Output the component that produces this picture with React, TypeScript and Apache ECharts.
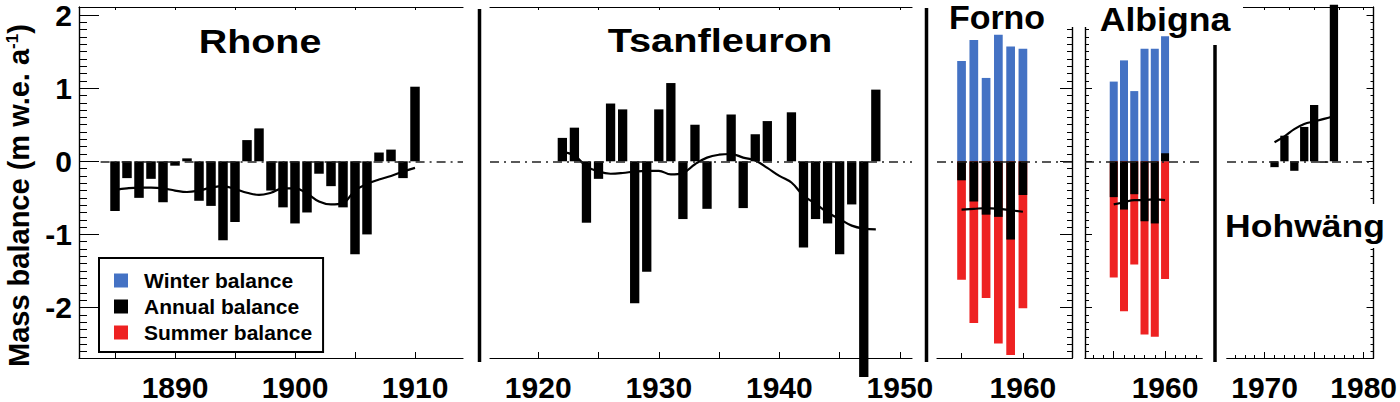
import React, { useEffect, useRef } from "react";
import * as echarts from "echarts";

const FONT = '"Liberation Sans", Arial, Helvetica, sans-serif';

const Y_MIN = -2.69;
const Y_MAX = 2.11;
const Y_MAJOR = [-2, -1, 0, 1, 2];
const Y_MINOR: number[] = [];
for (let i = -26; i <= 21; i++) Y_MINOR.push(i / 10);

// Rhone
const RHONE_YEARS = [1885, 1886, 1887, 1888, 1889, 1890, 1891, 1892, 1893, 1894, 1895, 1896, 1897, 1898, 1899, 1900, 1901, 1902, 1903, 1904, 1905, 1906, 1907, 1908, 1909, 1910];
const RHONE_ANNUAL = [-0.68, -0.23, -0.5, -0.24, -0.56, -0.06, 0.04, -0.54, -0.61, -1.08, -0.83, 0.29, 0.45, -0.4, -0.63, -0.85, -0.7, -0.17, -0.34, -0.63, -1.27, -1.0, 0.12, 0.16, -0.23, 1.02];
const RHONE_SMOOTH = [-0.39, -0.37, -0.36, -0.36, -0.37, -0.4, -0.42, -0.4, -0.36, -0.34, -0.38, -0.43, -0.46, -0.43, -0.37, -0.37, -0.44, -0.55, -0.59, -0.57, -0.4, -0.31, -0.25, -0.2, -0.14, -0.09];

// Tsanfleuron
const TSAN_YEARS = [1922, 1923, 1924, 1925, 1926, 1927, 1928, 1929, 1930, 1931, 1932, 1933, 1934, 1936, 1937, 1938, 1939, 1941, 1942, 1943, 1944, 1945, 1946, 1947, 1948];
const TSAN_ANNUAL = [0.32, 0.46, -0.84, -0.24, 0.79, 0.71, -1.94, -1.51, 0.71, 1.07, -0.79, 0.5, -0.65, 0.64, -0.64, 0.37, 0.55, 0.67, -1.18, -0.79, -0.85, -1.27, -0.59, -2.95, 0.98];
const TSAN_SMOOTH_YEARS = [1922, 1923, 1924, 1925, 1926, 1927, 1928, 1929, 1930, 1931, 1932, 1933, 1934, 1935, 1936, 1937, 1938, 1939, 1940, 1941, 1942, 1943, 1944, 1945, 1946, 1947, 1948];
const TSAN_SMOOTH = [0.13, 0.08, -0.07, -0.14, -0.17, -0.16, -0.14, -0.13, -0.13, -0.18, -0.16, -0.04, 0.05, 0.09, 0.1, 0.05, 0.01, -0.09, -0.2, -0.29, -0.47, -0.58, -0.7, -0.79, -0.88, -0.92, -0.93];

// Forno
const FORNO_YEARS = [1955, 1956, 1957, 1958, 1959, 1960];
const FORNO_WINTER = [1.37, 1.66, 1.14, 1.73, 1.57, 1.54];
const FORNO_ANNUAL = [-0.26, -0.55, -0.73, -0.76, -1.07, -0.46];
const FORNO_SUMMER = [-1.62, -2.21, -1.87, -2.49, -2.65, -2.01];
const FORNO_SMOOTH = [-0.66, -0.65, -0.64, -0.65, -0.67, -0.69];

// Albigna
const ALB_YEARS = [1955, 1956, 1957, 1958, 1959, 1960];
const ALB_WINTER = [1.09, 1.38, 0.96, 1.54, 1.54, 1.71];
const ALB_ANNUAL = [-0.49, -0.66, -0.45, -0.82, -0.85, 0.11];
const ALB_SUMMER = [-1.59, -2.05, -1.41, -2.37, -2.4, -1.61];
const ALB_SMOOTH = [-0.59, -0.56, -0.53, -0.53, -0.52, -0.53];

// Hohwäng
const HOHW_YEARS = [1971, 1972, 1973, 1974, 1975, 1976, 1977];
const HOHW_ANNUAL = [-0.08, 0.35, -0.13, 0.47, 0.77, -0.02, 2.14];
const HOHW_SMOOTH = [0.26, 0.34, 0.44, 0.51, 0.545, 0.58, 0.62];

// axis ticks / labels
const RHONE_XTICKS = [1885, 1890, 1895, 1900, 1905, 1910];
const RHONE_XLABELS = [1890, 1900, 1910];
const TSAN_XTICKS = [1920, 1925, 1930, 1935, 1940, 1945, 1950];
const TSAN_XLABELS = [1920, 1930, 1940, 1950];
const FORNO_XTICKS = [1955, 1960];
const FORNO_XLABELS = [1960];
const ALB_XTICKS_MAJOR = [1955, 1960];
const ALB_XTICKS_MINOR = [1953, 1954, 1955, 1956, 1957, 1958, 1959, 1960, 1961, 1962, 1963];
const ALB_XLABELS = [1960];
const HOHW_XTICKS_MAJOR = [1970, 1975, 1980];
const HOHW_XTICKS_MINOR = [1967, 1968, 1969, 1970, 1971, 1972, 1973, 1974, 1975, 1976, 1977, 1978, 1979, 1980];
const HOHW_XTICKS_TOP = [1970, 1972.5, 1975, 1977.5, 1980];
const HOHW_XLABELS = [1970, 1980];

const BLUE = "#4472c4";
const RED = "#ee2222";
const BLACK = "#000000";

const pairs = (xs: number[], ys: number[]) => xs.map((x, i) => [x, ys[i]]);

function xAx(gridIndex: number, min: number, max: number, position: string, ticks: number[], tickLen: number, labels: number[] | null, lineShow = true) {
  return {
    type: "value",
    gridIndex,
    min,
    max,
    position,
    axisLine: { show: lineShow, onZero: false, lineStyle: { color: "#000", width: 1.2 } },
    axisTick: { show: true, inside: true, length: tickLen, customValues: ticks, lineStyle: { color: "#000", width: 1 } },
    axisLabel: labels
      ? { show: true, customValues: labels, formatter: (v: number) => String(v), fontSize: 30, fontWeight: "bold", color: "#000", fontFamily: FONT, margin: 14 }
      : { show: false },
    splitLine: { show: false },
  };
}

function yAx(gridIndex: number, position: string, ticks: number[], tickLen: number, labels: number[] | null, show = true) {
  return {
    type: "value",
    gridIndex,
    min: Y_MIN,
    max: Y_MAX,
    position,
    show,
    axisLine: { show: true, onZero: false, lineStyle: { color: "#000", width: 1.2 } },
    axisTick: { show: true, inside: true, length: tickLen, customValues: ticks, lineStyle: { color: "#000", width: 1 } },
    axisLabel: labels
      ? { show: true, customValues: labels, formatter: (v: number) => String(v), fontSize: 30, fontWeight: "bold", color: "#000", fontFamily: FONT, margin: 7 }
      : { show: false },
    splitLine: { show: false },
  };
}

const zeroLine = {
  silent: true,
  symbol: ["none", "none"],
  label: { show: false },
  lineStyle: { color: "#222", width: 1.5, type: [9, 5, 2, 5] },
  data: [{ yAxis: 0 }],
};

function trend(name: string, xi: number, yi: number, xs: number[], ys: number[]) {
  return {
    name,
    type: "line",
    xAxisIndex: xi,
    yAxisIndex: yi,
    data: pairs(xs, ys),
    smooth: 0.4,
    showSymbol: false,
    symbol: "none",
    lineStyle: { color: BLACK, width: 2.2 },
    z: 4,
  };
}

function bar(name: string, color: string, xi: number, yi: number, xs: number[], ys: number[], width: number, extra: any = {}) {
  return {
    name,
    type: "bar",
    xAxisIndex: xi,
    yAxisIndex: yi,
    data: pairs(xs, ys),
    barWidth: width,
    barGap: "-100%",
    itemStyle: { color },
    clip: false,
    z: 2,
    ...extra,
  };
}

function titleText(text: string, x: number, y: number, size: number, scaleX: number, bg = false) {
  return {
    type: "text",
    x,
    y,
    scaleX,
    z: 120,
    style: {
      text,
      fill: "#000",
      fontSize: size,
      fontWeight: "bold",
      fontFamily: FONT,
      align: "center",
      verticalAlign: "middle",
      backgroundColor: bg ? "#fff" : undefined,
      padding: bg ? [6, 3] : 0,
    },
  };
}

function sep(x: number, y1: number, y2: number) {
  return {
    type: "line",
    z: 110,
    shape: { x1: x, y1, x2: x, y2 },
    style: { stroke: "#000", lineWidth: 3.5 },
  };
}

export default function App() {
  const ref = useRef<HTMLDivElement>(null);
  useEffect(() => {
    if (!ref.current) return;
    const chart = echarts.init(ref.current, undefined, { renderer: "svg" });
    const option: any = {
      animation: false,
      backgroundColor: "#fff",
      textStyle: { fontFamily: FONT },
      legend: {
        show: true,
        orient: "vertical",
        left: 99,
        top: 258,
        data: ["Winter balance", "Annual balance", "Summer balance"],
        icon: "rect",
        itemWidth: 14,
        itemHeight: 14,
        itemGap: 5,
        padding: [12, 11, 9, 15],
        borderColor: "#000",
        borderWidth: 2,
        backgroundColor: "#fff",
        selectedMode: false,
        z: 50,
        textStyle: { fontSize: 21, fontWeight: "bold", color: "#000", fontFamily: FONT, padding: [0, 0, 0, 11], lineHeight: 16 },
      },
      grid: [
        { left: 79, top: 7, width: 384, height: 355 },
        { left: 490, top: 7, width: 422, height: 355 },
        { left: 937, top: 7, width: 135, height: 355 },
        { left: 1085, top: 7, width: 117, height: 355 },
        { left: 1227, top: 7, width: 148, height: 355 },
      ],
      xAxis: [
        xAx(0, 1882, 1914, "bottom", RHONE_XTICKS, 6, RHONE_XLABELS),
        xAx(0, 1882, 1914, "top", RHONE_XTICKS, 3, null),
        xAx(1, 1916, 1951, "bottom", TSAN_XTICKS, 6, TSAN_XLABELS),
        xAx(1, 1916, 1951, "top", TSAN_XTICKS, 3, null),
        xAx(2, 1953, 1964, "bottom", FORNO_XTICKS, 5, FORNO_XLABELS),
        xAx(3, 1952.2, 1963.6, "bottom", ALB_XTICKS_MAJOR, 7, ALB_XLABELS),
        xAx(3, 1952.2, 1963.6, "bottom", ALB_XTICKS_MINOR, 3, null),
        xAx(4, 1966.2, 1981, "bottom", HOHW_XTICKS_MAJOR, 6, HOHW_XLABELS),
        xAx(4, 1966.2, 1981, "bottom", HOHW_XTICKS_MINOR, 3, null),
        xAx(4, 1966.2, 1981, "top", HOHW_XTICKS_TOP, 3, null),
      ],
      yAxis: [
        yAx(0, "left", Y_MAJOR, 20, Y_MAJOR),
        yAx(0, "left", Y_MINOR, 8, null),
        yAx(1, "left", Y_MAJOR, 0, null, false),
        yAx(2, "right", Y_MAJOR, 12, null),
        yAx(2, "right", Y_MINOR, 5, null),
        yAx(3, "left", Y_MAJOR, 7, null),
        yAx(3, "left", Y_MINOR, 4, null),
        yAx(4, "right", Y_MAJOR, 7, null),
        yAx(4, "right", Y_MINOR, 3, null),
      ],
      series: [
        bar("Annual balance", BLACK, 0, 0, RHONE_YEARS, RHONE_ANNUAL, 9.5, {
          markLine: { ...zeroLine, data: [[{ coord: [1883.8, 0] }, { coord: [1914, 0] }]] },
        }),
        trend("Rhone 5-yr", 0, 0, RHONE_YEARS, RHONE_SMOOTH),

        bar("Annual balance", BLACK, 2, 2, TSAN_YEARS, TSAN_ANNUAL, 9.3, { markLine: zeroLine }),
        trend("Tsanfleuron 5-yr", 2, 2, TSAN_SMOOTH_YEARS, TSAN_SMOOTH),

        bar("Winter balance", BLUE, 4, 3, FORNO_YEARS, FORNO_WINTER, 8.7),
        bar("Summer balance", RED, 4, 3, FORNO_YEARS, FORNO_SUMMER, 8.7),
        bar("Annual balance", BLACK, 4, 3, FORNO_YEARS, FORNO_ANNUAL, 8.7, { markLine: zeroLine }),
        trend("Forno 5-yr", 4, 3, FORNO_YEARS, FORNO_SMOOTH),

        bar("Winter balance", BLUE, 5, 5, ALB_YEARS, ALB_WINTER, 8),
        bar("Summer balance", RED, 5, 5, ALB_YEARS, ALB_SUMMER, 8),
        bar("Annual balance", BLACK, 5, 5, ALB_YEARS, ALB_ANNUAL, 8, { markLine: zeroLine }),
        trend("Albigna 5-yr", 5, 5, ALB_YEARS, ALB_SMOOTH),

        bar("Annual balance", BLACK, 7, 7, HOHW_YEARS, HOHW_ANNUAL, 8.3, { markLine: zeroLine }),
        trend("Hohwäng 5-yr", 7, 7, HOHW_YEARS, HOHW_SMOOTH),
      ],
      graphic: [
        { type: "rect", z: 100, shape: { x: 1045, y: 0, width: 198, height: 27 }, style: { fill: "#fff" } },
        sep(479.5, 9, 362),
        sep(926.5, 8, 362),
        sep(1215, 45, 362),
        titleText("Rhone", 260, 41, 34, 1.16),
        titleText("Tsanfleuron", 720, 41, 34, 1.17),
        titleText("Forno", 997, 18, 33, 1.03),
        titleText("Albigna", 1165, 19, 33, 1.08),
        titleText("Hohwäng", 1305, 226, 32, 1.11, true),
        {
          type: "text",
          x: 18.5,
          y: 367,
          rotation: Math.PI / 2,
          z: 120,
          style: {
            text: "Mass balance (m w.e. a{sup|-1})",
            fill: "#000",
            fontSize: 29,
            fontWeight: "bold",
            fontFamily: FONT,
            align: "left",
            verticalAlign: "middle",
            rich: {
              sup: { fontSize: 17, fontWeight: "bold", fontFamily: FONT, fill: "#000", verticalAlign: "top" },
            },
          },
        },
      ],
    };
    chart.setOption(option);
    return () => chart.dispose();
  }, []);
  return <div ref={ref} style={{ position: "absolute", left: 0, top: 0, width: "1400px", height: "402px", overflow: "hidden" }} />;
}
